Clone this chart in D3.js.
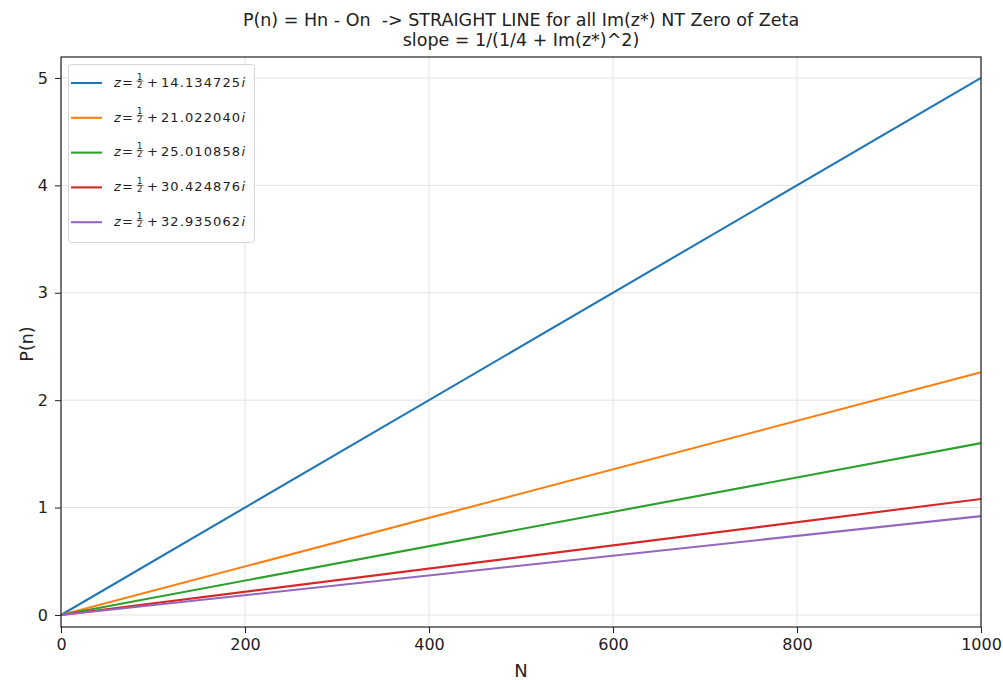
<!DOCTYPE html>
<html>
<head>
<meta charset="utf-8">
<script src="https://cdn.jsdelivr.net/npm/d3@7"></script>
<style>
  body { margin: 0; background: #fff; }
  text { font-family: "DejaVu Sans", sans-serif; fill: #222; }
</style>
</head>
<body>
<script>
const W = 1003, H = 680;
const M = { left: 61, top: 57, right: 22, bottom: 53 };

// imaginary parts of the first zeta zeros (legend)
const ZEROS = ['14.134725', '21.022040', '25.010858', '30.424876', '32.935062'];
// line end points
const N_VALUES = [0, 1000];
const P_AT_0 = [0, 0, 0, 0, 0];
const P_AT_1000 = [5.00, 2.26, 1.60, 1.08, 0.92];
const COLORS = ['#1f77b4', '#ff7f0e', '#2ca02c', '#d62728', '#9467bd'];

const X_TICKS = [0, 200, 400, 600, 800, 1000];
const Y_TICKS = [0, 1, 2, 3, 4, 5];

const svg = d3.select('body').append('svg').attr('width', W).attr('height', H);

const x = d3.scaleLinear().domain([0, 1000]).range([M.left, W - M.right]);
const y = d3.scaleLinear().domain([-0.112, 5.195]).range([H - M.bottom, M.top]);

// grid
svg.append('g').selectAll('line').data(X_TICKS).enter().append('line')
    .attr('x1', d => x(d)).attr('x2', d => x(d))
    .attr('y1', M.top).attr('y2', H - M.bottom)
    .attr('stroke', '#e3e3e3').attr('stroke-width', 1);
svg.append('g').selectAll('line').data(Y_TICKS).enter().append('line')
    .attr('y1', d => y(d)).attr('y2', d => y(d))
    .attr('x1', M.left).attr('x2', W - M.right)
    .attr('stroke', '#e3e3e3').attr('stroke-width', 1);

// lines
const line = d3.line().x(d => x(d[0])).y(d => y(d[1]));
P_AT_1000.forEach((p, i) => {
    svg.append('path')
        .datum(N_VALUES.map((n, j) => [n, j === 0 ? P_AT_0[i] : p]))
        .attr('d', line)
        .attr('fill', 'none')
        .attr('stroke', COLORS[i])
        .attr('stroke-width', 2.1);
});

// axes
const fmt = d3.format('d');
const xAxis = d3.axisBottom(x).tickValues(X_TICKS).tickFormat(fmt).tickSize(6).tickPadding(6).tickSizeOuter(0);
const yAxis = d3.axisLeft(y).tickValues(Y_TICKS).tickFormat(fmt).tickSize(6).tickPadding(7).tickSizeOuter(0);

svg.append('g').attr('transform', 'translate(0,' + (H - M.bottom) + ')').call(xAxis)
    .call(g => g.selectAll('text').style('font-size', '16px').attr('fill', '#222'))
    .call(g => g.selectAll('line').attr('stroke', '#222'));
svg.append('g').attr('transform', 'translate(' + M.left + ',0)').call(yAxis)
    .call(g => g.selectAll('text').style('font-size', '16px').attr('fill', '#222'))
    .call(g => g.selectAll('line').attr('stroke', '#222'));

svg.selectAll('.domain').remove();
// frame
svg.append('rect')
    .attr('x', M.left).attr('y', M.top)
    .attr('width', W - M.right - M.left).attr('height', H - M.bottom - M.top)
    .attr('fill', 'none').attr('stroke', '#222').attr('stroke-width', 1.2);

// labels
svg.append('text').attr('x', (M.left + W - M.right) / 2).attr('y', 677)
    .attr('text-anchor', 'middle').style('font-size', '18px').text('N');
svg.append('text').attr('transform', 'translate(33,' + 344 + ') rotate(-90)')
    .attr('text-anchor', 'middle').style('font-size', '17.5px').text('P(n)');

// title
const cx = (M.left + W - M.right) / 2;
svg.append('text').attr('x', cx).attr('y', 26).attr('text-anchor', 'middle')
    .style('font-size', '17.5px').attr('xml:space', 'preserve')
    .text('P(n) = Hn - On  -> STRAIGHT LINE for all Im(z*) NT Zero of Zeta');
svg.append('text').attr('x', cx).attr('y', 46).attr('text-anchor', 'middle')
    .style('font-size', '17.5px').text('slope = 1/(1/4 + Im(z*)^2)');

// legend
const lg = svg.append('g');
lg.append('rect').attr('x', 68.5).attr('y', 64.5).attr('width', 186).attr('height', 178)
    .attr('rx', 3).attr('fill', '#fff').attr('fill-opacity', 0.8).attr('stroke', '#d6d6d6');

ZEROS.forEach((z, i) => {
    const ly = 83 + i * 34.8;
    lg.append('line').attr('x1', 71).attr('x2', 102).attr('y1', ly).attr('y2', ly)
        .attr('stroke', COLORS[i]).attr('stroke-width', 2.1);
    const txt = (tx, ty, str, size, italic, ls) => lg.append('text')
        .attr('x', tx).attr('y', ty)
        .style('font-size', size + 'px')
        .style('font-style', italic ? 'italic' : 'normal')
        .style('letter-spacing', ls ? ls + 'px' : null)
        .text(str);
    txt(114, ly + 3.8, 'z', 13, true);
    txt(122, ly + 3.8, '=', 13);
    txt(137, ly - 3.5, '1', 8.5);
    txt(137, ly + 4.5, '2', 8.5);
    lg.append('line').attr('x1', 136.5).attr('x2', 143.5).attr('y1', ly - 2).attr('y2', ly - 2)
        .attr('stroke', '#222').attr('stroke-width', 0.6);
    txt(147, ly + 3.8, '+', 13);
    const num = txt(161, ly + 3.8, z, 13, false, 1.1);
    const w = num.node().getComputedTextLength();
    txt(161 + w + 0.3, ly + 3.8, 'i', 13, true);
});
</script>
</body>
</html>
